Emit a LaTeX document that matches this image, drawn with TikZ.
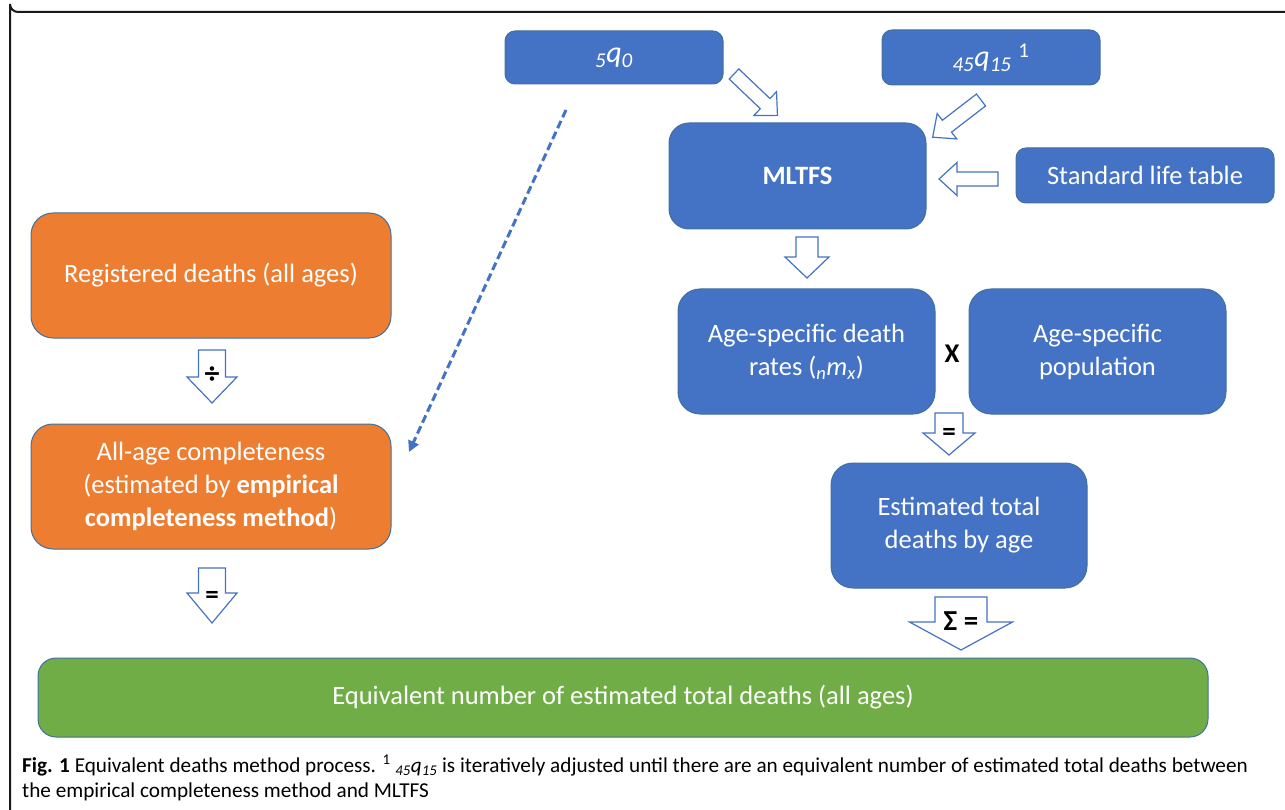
\documentclass[tikz,border=0pt]{standalone}
\usepackage{fontspec}
\setmainfont{Carlito}
\usetikzlibrary{arrows.meta}
\definecolor{boxblue}{HTML}{4472C4}
\definecolor{boxedge}{HTML}{41719C}
\definecolor{boxorange}{HTML}{ED7D31}
\definecolor{boxgreen}{HTML}{70AD47}
\definecolor{arrowblue}{HTML}{4472C4}
\newcommand\blockarr[7]{% name, start, angle, length, shaft, head width, head length
  \draw[blockarrow, shift={#2}, rotate=#3]
    (0,-#5/2) -- ({#4-#7},-#5/2) -- ({#4-#7},-#6/2) -- (#4,0)
    -- ({#4-#7},#6/2) -- ({#4-#7},#5/2) -- (0,#5/2) -- cycle;
  \coordinate (#1) at #2;}
\begin{document}
\begin{tikzpicture}[x=1pt,y=-1pt,
  box/.style={draw=boxedge, line width=1pt, rounded corners=#1, text=white,
    align=center, inner sep=0pt, font=\fontsize{26.5}{33}\selectfont},
  box/.default=22pt,
  bluebox/.style={box=#1, fill=boxblue},
  bluebox/.default=22pt,
  blockarrow/.style={draw=arrowblue, fill=white, line width=1.2pt, line join=miter},
  lbl/.style={inner sep=0pt, font=\fontsize{27}{30}\selectfont\bfseries},
  dasharrow/.style={draw=arrowblue, line width=3pt, dash pattern=on 8pt off 4pt,
    -{Triangle[length=11pt,width=11pt]}}]
\useasboundingbox (0,0) rectangle (1285,810);
% frame
\draw[line width=2pt, black!90] (1290,12) -- (18,12) arc[start angle=90, end angle=180, radius=8] -- (10,815);
% top row
\node[bluebox=10pt, minimum width=218, minimum height=53] (q5) at (614,57.5)
  {\fontsize{30}{32}\selectfont\itshape \textsubscript{5}q\textsubscript{0}};
\node[bluebox=10pt, minimum width=218, minimum height=55] (q45) at (991,57.5)
  {\fontsize{30}{32}\selectfont{\itshape \textsubscript{45}q\textsubscript{15}} \textsuperscript{1}};
\node[bluebox=20pt, minimum width=257, minimum height=106] (mltfs) at (797.5,176)
  {\bfseries MLTFS};
\node[bluebox=10pt, minimum width=258, minimum height=55] (slt) at (1145,175.5)
  {Standard life table};
% right column
\node[bluebox, minimum width=257, minimum height=125] (rates) at (806.5,351.5)
  {Age-specific death\\rates ({\itshape\textsubscript{n}m\textsubscript{x}})};
\node[bluebox, minimum width=257, minimum height=125] (pop) at (1097.5,351.5)
  {Age-specific\\population};
\node[lbl] (times) at (952,354) {X};
\node[bluebox, minimum width=256, minimum height=125] (est) at (959,525.5)
  {Estimated total\\deaths by age};
% left column
\node[box, fill=boxorange, minimum width=360, minimum height=125] (reg) at (211,275.5)
  {Registered deaths (all ages)};
\node[box, fill=boxorange, minimum width=360, minimum height=125] (comp) at (211,486.5)
  {All-age completeness\\(estimated by \textbf{empirical}\\\textbf{completeness method})};
% bottom
\node[box=18pt, fill=boxgreen, minimum width=1170, minimum height=79] (equiv) at (623,697.5)
  {Equivalent number of estimated total deaths (all ages)};
% block arrows
\blockarr{a1}{(734,74)}{-43.6}{60}{14}{33}{17}
\blockarr{a2}{(981,100)}{-142.4}{61}{15}{32}{18}
\blockarr{a3}{(998,179)}{180}{59}{14}{33}{18}
\blockarr{a4}{(807,237)}{-90}{41}{22}{44}{21}
\blockarr{a5}{(212,350)}{-90}{53}{27}{50}{26}
\blockarr{a6}{(212,568)}{-90}{55}{27}{50}{30}
\blockarr{a7}{(949,413)}{-90}{42}{28}{52}{22}
\blockarr{a8}{(961,597)}{-90}{53}{52}{103}{28}
\node[lbl, font=\fontsize{30}{30}\selectfont\bfseries] (div) at (212,375) {÷};
\node[lbl] (eq1) at (212,597) {=};
\node[lbl] (eq2) at (949,434) {=};
\node[lbl, font=\fontsize{29}{30}\selectfont\bfseries] (sig) at (961,621) {Σ =};
% dashed connector
\coordinate (dstart) at (566,110);
\coordinate (dend) at (409,452);
\draw[dasharrow] (dstart) -- (dend);
% caption
\node[anchor=base west, inner sep=0pt, font=\fontsize{21.2}{24}\selectfont] (cap1) at (22,772)
  {\textbf{Fig. 1} Equivalent deaths method process. \textsuperscript{1} {\itshape\textsubscript{45}q\textsubscript{15}} is iteratively adjusted until there are an equivalent number of estimated total deaths between};
\node[anchor=base west, inner sep=0pt, font=\fontsize{21.2}{24}\selectfont] (cap2) at (22,797)
  {the empirical completeness method and MLTFS};
\end{tikzpicture}
\end{document}
